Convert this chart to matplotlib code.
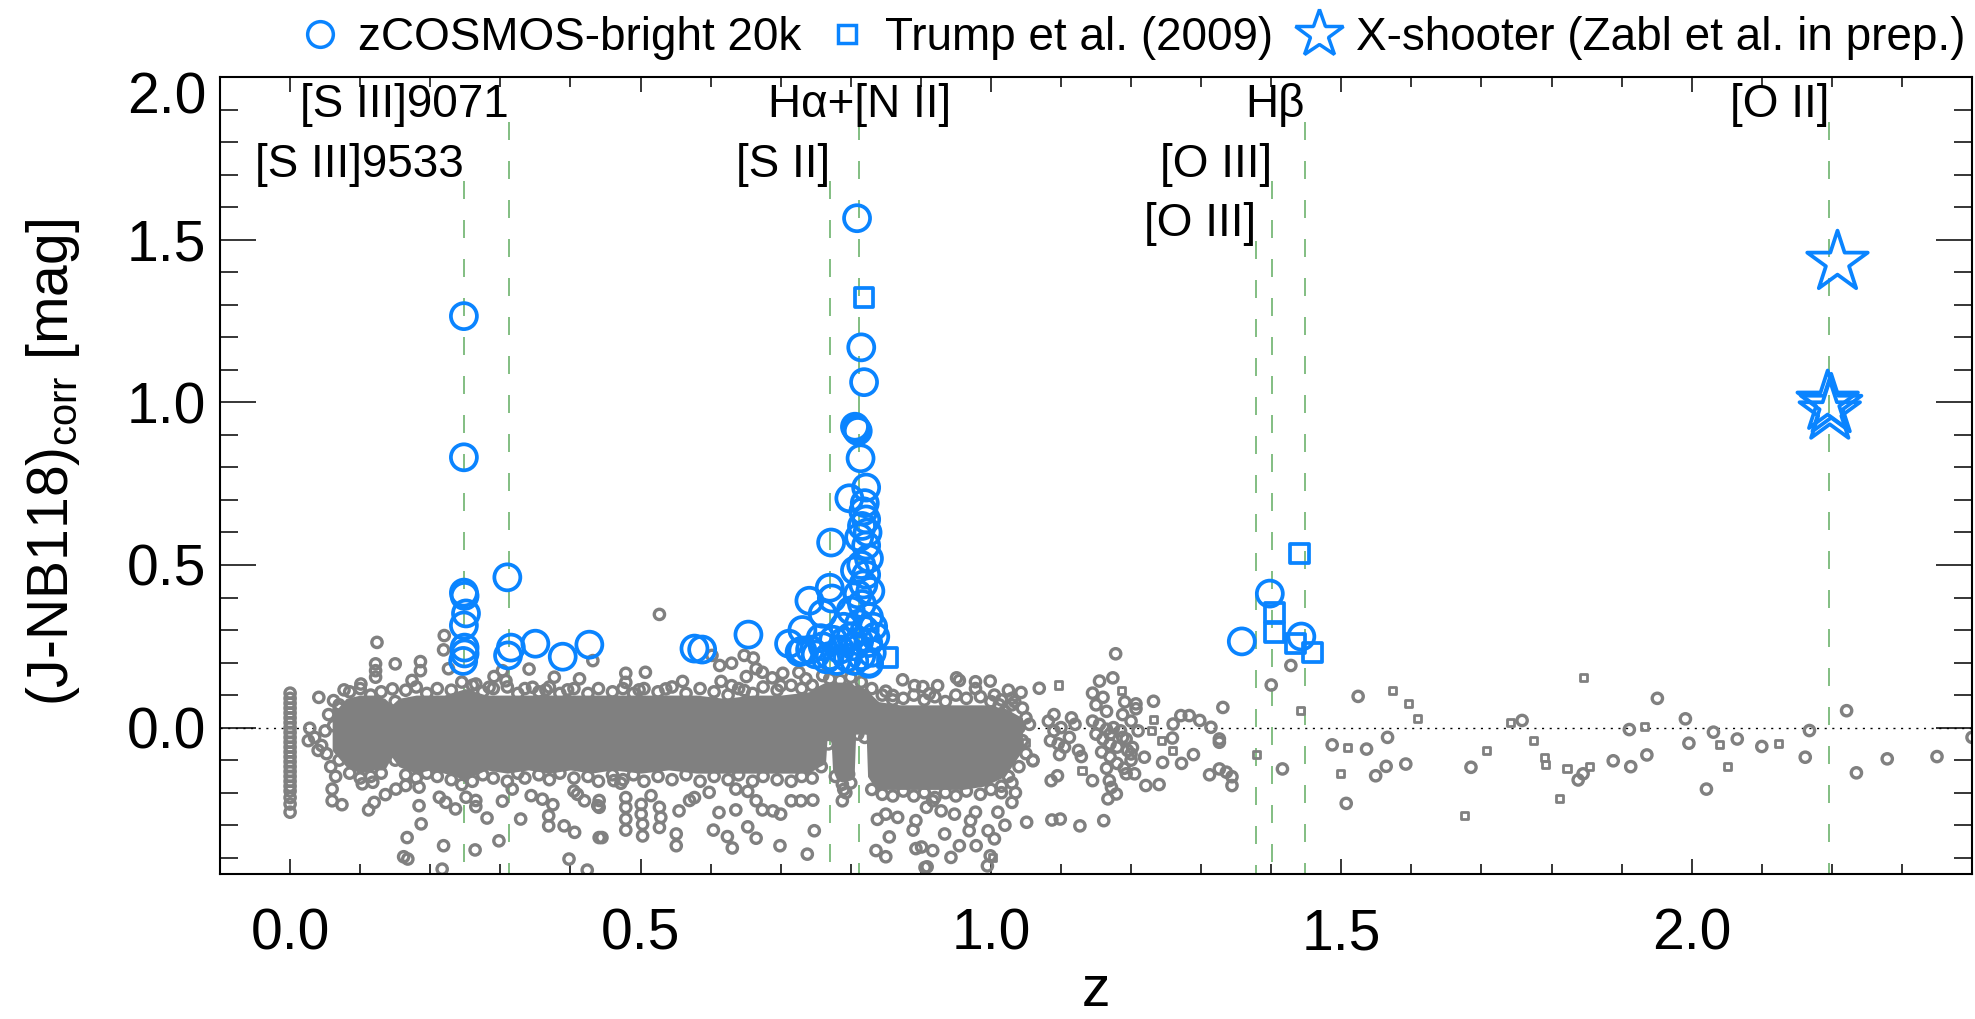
import matplotlib
matplotlib.use('Agg')
import matplotlib.pyplot as plt
from matplotlib.lines import Line2D
from matplotlib.ticker import MultipleLocator, FormatStrFormatter
from matplotlib.transforms import ScaledTranslation

plt.rcParams['font.family'] = ['Liberation Sans', 'DejaVu Sans']
plt.rcParams['mathtext.fontset'] = 'custom'
plt.rcParams['mathtext.rm'] = 'Liberation Sans'
plt.rcParams['mathtext.it'] = 'Liberation Sans'

# emission lines falling into NB118
line_z = [0.248, 0.312, 0.771, 0.812, 1.378, 1.401, 1.448, 2.196]
line_labels = ['[S III]9533', '[S III]9071', '[S II]', 'H\u03b1+[N II]',
               '[O III]', '[O III]', 'H\u03b2', '[O II]']
label_y = [1.694, 1.878, 1.694, 1.878, 1.511, 1.694, 1.878, 1.878]
label_ha = ['right', 'right', 'right', 'center', 'right', 'right', 'right', 'right']

# dense core of the full NB118 sample (envelope of the saturated cloud)
band_z = [0.06, 0.08, 0.10, 0.12, 0.135, 0.145, 0.155, 0.18, 0.20, 0.22, 0.25, 0.28,
          0.31, 0.34, 0.37, 0.40, 0.43, 0.46, 0.50, 0.54, 0.58, 0.62, 0.66, 0.70,
          0.74, 0.755, 0.764, 0.766, 0.772, 0.774, 0.78, 0.80, 0.805, 0.807, 0.822,
          0.824, 0.83, 0.84, 0.87, 0.90, 0.93, 0.96, 0.99, 1.02, 1.045]
band_hi = [0.04, 0.09, 0.10, 0.10, 0.09, 0.07, 0.09, 0.10, 0.10, 0.10, 0.12, 0.10,
           0.10, 0.10, 0.10, 0.10, 0.10, 0.10, 0.10, 0.10, 0.10, 0.09, 0.10, 0.10,
           0.11, 0.13, 0.14, 0.14, 0.14, 0.14, 0.14, 0.14, 0.13, 0.13, 0.12,
           0.12, 0.10, 0.08, 0.07, 0.07, 0.07, 0.07, 0.07, 0.06, 0.03]
band_lo = [-0.07, -0.12, -0.14, -0.13, -0.13, -0.09, -0.12, -0.14, -0.13, -0.14, -0.16, -0.13,
           -0.14, -0.13, -0.14, -0.13, -0.14, -0.13, -0.14, -0.13, -0.14, -0.14, -0.14, -0.14,
           -0.14, -0.12, -0.11, -0.04, -0.04, -0.13, -0.16, -0.15, -0.14, -0.02, -0.02,
           -0.15, -0.17, -0.19, -0.19, -0.19, -0.19, -0.19, -0.18, -0.15, -0.07]

# grey circles along the upper and lower rim of the dense cloud
rim_top_z = [0.07, 0.085, 0.10, 0.115, 0.13, 0.15, 0.165, 0.18, 0.195, 0.21, 0.23, 0.245, 0.26,
             0.275, 0.29, 0.31, 0.325, 0.335, 0.355, 0.37, 0.385, 0.405, 0.425, 0.44, 0.46, 0.475,
             0.49, 0.505, 0.525, 0.545, 0.565, 0.585, 0.605, 0.625, 0.64, 0.66, 0.675, 0.695,
             0.715, 0.73, 0.745, 0.76, 0.77, 0.785, 0.80, 0.815, 0.83, 0.845, 0.86, 0.875, 0.89,
             0.905, 0.92, 0.935, 0.95, 0.965, 0.985, 1.0, 1.015, 1.03]
rim_top_y = [0.07, 0.11, 0.12, 0.10, 0.11, 0.08, 0.115, 0.125, 0.105, 0.12, 0.115, 0.14, 0.13,
             0.11, 0.12, 0.125, 0.105, 0.12, 0.11, 0.125, 0.105, 0.12, 0.105, 0.12, 0.11, 0.12,
             0.105, 0.12, 0.11, 0.125, 0.105, 0.12, 0.11, 0.10, 0.12, 0.105, 0.125, 0.115,
             0.13, 0.12, 0.13, 0.16, 0.15, 0.145, 0.155, 0.14, 0.12, 0.10, 0.085, 0.09, 0.10,
             0.085, 0.095, 0.08, 0.10, 0.09, 0.095, 0.08, 0.085, 0.07]
rim_bot_z = [0.07, 0.085, 0.10, 0.115, 0.13, 0.15, 0.165, 0.18, 0.195, 0.21, 0.23, 0.245, 0.26,
             0.275, 0.29, 0.31, 0.325, 0.335, 0.355, 0.37, 0.385, 0.405, 0.425, 0.44, 0.46, 0.475,
             0.49, 0.505, 0.525, 0.545, 0.565, 0.585, 0.605, 0.625, 0.64, 0.66, 0.675, 0.695,
             0.715, 0.73, 0.745, 0.758, 0.768, 0.778, 0.79, 0.80, 0.81, 0.82, 0.83, 0.845, 0.86,
             0.875, 0.89, 0.905, 0.92, 0.935, 0.95, 0.965, 0.985, 1.0, 1.015, 1.03]
rim_bot_y = [-0.10, -0.14, -0.155, -0.15, -0.14, -0.10, -0.145, -0.155, -0.14, -0.15, -0.16, -0.175,
             -0.165, -0.145, -0.155, -0.165, -0.14, -0.155, -0.145, -0.16, -0.14, -0.155, -0.15,
             -0.165, -0.145, -0.16, -0.145, -0.165, -0.15, -0.16, -0.145, -0.165, -0.15, -0.16,
             -0.145, -0.165, -0.15, -0.16, -0.165, -0.15, -0.155, -0.12, -0.05, -0.15, -0.19,
             -0.17, -0.02, -0.03, -0.19, -0.205, -0.21, -0.195, -0.21, -0.20, -0.215, -0.20,
             -0.21, -0.195, -0.205, -0.19, -0.20, -0.17]

# individual grey circles (all NB118 objects with a redshift)
gray_z = [0.0] * 24 + [
    0.028, 0.041, 0.026, 0.040, 0.035, 0.045, 0.062, 0.062, 0.050, 0.055, 0.052, 0.058, 0.065, 0.070,
    0.124, 0.220, 0.219, 0.226, 0.150, 0.186, 0.186, 0.122, 0.122, 0.122, 0.174, 0.146, 0.101, 0.077,
    0.265, 0.291, 0.284, 0.303, 0.308, 0.341, 0.377, 0.413, 0.432, 0.396, 0.346, 0.365,
    0.060, 0.060, 0.074, 0.103, 0.118, 0.112, 0.120, 0.136, 0.151, 0.165, 0.184, 0.187, 0.167, 0.162,
    0.168, 0.219, 0.217, 0.213, 0.222, 0.236, 0.251, 0.265, 0.265, 0.264, 0.281, 0.303, 0.298, 0.329,
    0.344, 0.360, 0.369, 0.369, 0.375, 0.391, 0.406, 0.398, 0.424, 0.441, 0.439, 0.410, 0.420, 0.405,
    0.462, 0.317, 0.184,
    0.527, 0.479, 0.507, 0.479, 0.498, 0.536, 0.560, 0.602, 0.613, 0.630, 0.615, 0.630, 0.648, 0.661,
    0.651, 0.665, 0.674, 0.688, 0.703, 0.726, 0.700, 0.736, 0.648, 0.874, 0.891, 0.903, 0.924, 0.951,
    0.955, 0.978, 0.978, 0.999, 0.850, 0.860, 0.912,
    0.445, 0.441, 0.441, 0.472, 0.479, 0.479, 0.479, 0.479, 0.501, 0.501, 0.503, 0.503, 0.515, 0.527,
    0.529, 0.527, 0.551, 0.551, 0.555, 0.570, 0.577, 0.598, 0.604, 0.612, 0.624, 0.631, 0.636, 0.636,
    0.653, 0.653, 0.665, 0.665, 0.674, 0.689, 0.699, 0.700, 0.715, 0.729, 0.746, 0.738, 0.748, 0.788,
    0.790, 0.797, 0.788, 0.793, 0.836, 0.850, 0.855, 0.850, 0.838, 0.867, 0.889, 0.893, 0.893, 0.901,
    0.909, 0.917, 0.934, 0.943, 0.955, 0.969, 0.971, 0.978, 0.979, 0.995, 0.999, 0.996, 0.929, 0.948,
    0.908, 0.917, 0.906,
    1.005, 1.012, 1.020, 1.030, 1.034, 1.045, 1.050, 1.040, 1.030, 1.045, 1.055, 1.060, 1.040, 1.025,
    1.015, 1.035, 1.030, 1.010, 1.020, 1.005, 1.050, 1.025, 1.043, 1.069, 1.060, 1.098, 1.095, 1.086,
    1.129, 1.145, 1.169, 1.172, 1.167, 1.179, 1.193, 1.205, 1.191, 1.207, 1.207, 1.202, 1.200, 1.188,
    1.193, 1.178, 1.174, 1.155, 1.145, 1.160, 1.232, 1.331, 1.400, 1.428, 1.314, 1.298, 1.283, 1.271,
    1.260, 1.259, 1.326, 1.326, 1.289, 1.272, 1.245, 1.219, 1.312, 1.326, 1.336, 1.344, 1.344, 1.416,
    1.487, 1.536, 1.549, 1.507, 1.524, 1.564, 1.566, 1.221, 1.240, 1.161, 1.127, 1.099, 1.087, 1.051,
    1.082, 1.090, 1.100, 1.112, 1.105, 1.096, 1.085, 1.120, 1.115, 1.125, 1.090,
    1.145, 1.155, 1.165, 1.175, 1.185, 1.150, 1.160, 1.170, 1.180, 1.158, 1.170, 1.180, 1.165, 1.190,
    1.200, 1.195, 1.188, 1.165, 1.150, 1.200, 1.210, 1.170,
    1.592, 1.685, 1.758, 1.838, 1.845, 1.888, 1.913, 1.911, 1.936, 1.951, 1.991, 1.996, 2.021, 2.031,
    2.065, 2.100, 2.162, 2.168, 2.221, 2.235, 2.279, 2.350, 2.400]
gray_y = [0.106, 0.090, 0.075, 0.060, 0.045, 0.030, 0.015, 0.0, -0.015, -0.030, -0.045, -0.060,
          -0.075, -0.090, -0.105, -0.120, -0.135, -0.150, -0.165, -0.180, -0.195, -0.215, -0.235, -0.260] + [
    -0.002, 0.093, -0.040, -0.070, -0.030, -0.055, 0.006, 0.083, -0.010, 0.040, -0.080, -0.120, -0.150, 0.060,
    0.262, 0.283, 0.239, 0.181, 0.196, 0.203, 0.175, 0.196, 0.175, 0.155, 0.145, 0.119, 0.134, 0.116,
    0.134, 0.157, 0.124, 0.175, 0.144, 0.180, 0.155, 0.150, 0.206, 0.116, 0.124, 0.116,
    -0.189, -0.225, -0.237, -0.173, -0.168, -0.253, -0.230, -0.206, -0.189, -0.178, -0.183, -0.296, -0.338, -0.397,
    -0.404, -0.363, -0.435, -0.214, -0.230, -0.250, -0.214, -0.224, -0.243, -0.376, -0.278, -0.226, -0.348, -0.281,
    -0.209, -0.220, -0.271, -0.302, -0.237, -0.302, -0.322, -0.404, -0.438, -0.338, -0.240, -0.205, -0.225, -0.195,
    -0.163, -0.189, -0.240,
    0.348, 0.167, 0.170, 0.139, 0.116, 0.119, 0.142, 0.222, 0.191, 0.198, 0.142, 0.129, 0.222, 0.214,
    0.157, 0.181, 0.170, 0.153, 0.167, 0.170, 0.129, 0.150, 0.114, 0.147, 0.129, 0.126, 0.129, 0.153,
    0.145, 0.141, 0.120, 0.143, 0.112, 0.099, 0.104,
    -0.338, -0.224, -0.245, -0.171, -0.215, -0.245, -0.281, -0.315, -0.236, -0.266, -0.297, -0.333, -0.209, -0.245,
    -0.276, -0.307, -0.327, -0.363, -0.256, -0.224, -0.215, -0.199, -0.315, -0.261, -0.335, -0.370, -0.189, -0.253,
    -0.196, -0.305, -0.340, -0.225, -0.253, -0.256, -0.363, -0.266, -0.225, -0.225, -0.223, -0.389, -0.317, -0.225,
    -0.148, -0.143, -0.174, -0.200, -0.378, -0.397, -0.336, -0.266, -0.282, -0.276, -0.315, -0.286, -0.372, -0.367,
    -0.428, -0.378, -0.327, -0.399, -0.363, -0.317, -0.286, -0.260, -0.363, -0.425, -0.394, -0.317, -0.256, -0.266,
    -0.245, -0.225, -0.430,
    0.100, 0.070, 0.050, 0.090, 0.080, 0.060, 0.030, 0.000, -0.020, -0.040, 0.010, -0.100, -0.120, -0.150,
    -0.180, -0.200, -0.230, -0.260, -0.300, -0.342, -0.080, 0.115, 0.108, 0.121, -0.102, -0.083, -0.148, -0.163,
    -0.089, -0.163, -0.163, -0.184, -0.219, -0.204, -0.142, -0.142, 0.079, 0.073, 0.058, -0.061, -0.081, -0.030,
    -0.035, 0.227, 0.153, 0.143, 0.106, 0.093, 0.081, 0.062, 0.131, 0.191, 0.001, 0.022, 0.037, 0.037,
    0.011, -0.032, -0.035, -0.045, -0.083, -0.110, -0.107, -0.091, -0.145, -0.127, -0.137, -0.151, -0.178, -0.127,
    -0.053, -0.066, -0.148, -0.233, 0.096, -0.119, -0.030, -0.178, -0.175, -0.286, -0.302, -0.281, -0.284, -0.291,
    0.020, -0.010, 0.000, -0.030, -0.060, -0.050, -0.040, 0.010, 0.030, -0.070, 0.040,
    0.020, 0.010, -0.005, 0.000, -0.010, -0.020, -0.035, -0.050, -0.060, -0.075, -0.090, -0.110, -0.125, -0.125,
    -0.100, -0.070, 0.040, 0.050, 0.070, 0.020, -0.010, -0.020,
    -0.112, -0.122, 0.022, -0.161, -0.142, -0.102, -0.120, -0.006, -0.084, 0.090, 0.027, -0.048, -0.189, -0.014,
    -0.035, -0.058, -0.091, -0.009, 0.052, -0.139, -0.096, -0.089, -0.030]

# grey squares
gsq_z = [1.097, 1.187, 1.232, 1.130, 1.049, 1.244, 1.259, 1.229, 1.379, 1.442, 1.499, 1.509, 1.573,
         1.596, 1.609, 1.707, 1.676, 1.742, 1.774, 1.790, 1.792, 1.822, 1.854, 1.811, 1.845, 1.932,
         2.040, 2.051, 2.124, 1.002]
gsq_y = [0.131, 0.114, 0.025, -0.132, -0.047, -0.040, -0.070, -0.008, -0.083, 0.052, -0.141, -0.061, 0.114,
         0.073, 0.027, -0.069, -0.271, 0.016, -0.040, -0.093, -0.114, -0.127, -0.120, -0.219, 0.153, 0.003,
         -0.052, -0.119, -0.050, -0.399]

# zCOSMOS-bright 20k emitters
zc_z = [0.248, 0.248, 0.248, 0.249, 0.251, 0.248, 0.249, 0.249, 0.247,
        0.310, 0.315, 0.311, 0.350, 0.389, 0.427, 0.577, 0.588, 0.654, 0.712,
        0.809, 0.815, 0.819, 0.806, 0.808, 0.810, 0.814, 0.822, 0.798, 0.820, 0.818, 0.822, 0.816,
        0.824, 0.812, 0.772, 0.822, 0.826, 0.815, 0.806, 0.822, 0.770, 0.818, 0.828, 0.773, 0.810,
        0.816, 0.800, 0.760, 0.826, 0.812, 0.731, 0.790, 0.820, 0.800, 0.775, 0.731, 0.760, 0.785,
        0.805, 0.825, 0.770, 0.795, 0.815, 0.830, 0.780, 0.805, 0.826, 0.765, 0.750, 0.742, 0.757,
        0.835, 0.832, 0.790, 0.812, 0.727, 0.741, 0.826,
        1.358, 1.398, 1.443]
zc_y = [1.265, 0.831, 0.415, 0.405, 0.351, 0.314, 0.246, 0.228, 0.205,
        0.462, 0.246, 0.222, 0.258, 0.218, 0.255, 0.243, 0.240, 0.286, 0.258,
        1.566, 1.169, 1.062, 0.925, 0.918, 0.912, 0.828, 0.738, 0.705, 0.690, 0.665, 0.640, 0.620,
        0.600, 0.585, 0.569, 0.560, 0.520, 0.500, 0.483, 0.470, 0.430, 0.440, 0.420, 0.397, 0.410,
        0.380, 0.360, 0.350, 0.340, 0.320, 0.300, 0.310, 0.300, 0.280, 0.270, 0.237, 0.250, 0.240,
        0.250, 0.260, 0.220, 0.215, 0.220, 0.230, 0.205, 0.205, 0.200, 0.210, 0.225, 0.240, 0.275,
        0.280, 0.310, 0.265, 0.265, 0.232, 0.390, 0.196,
        0.265, 0.412, 0.280]

# Trump et al. (2009)
tr_z = [0.819, 0.852, 1.440, 1.405, 1.405, 1.435, 1.459]
tr_y = [1.323, 0.215, 0.535, 0.354, 0.292, 0.258, 0.231]

# X-shooter (Zabl et al. in prep.)
xs_z = [2.208, 2.194, 2.199, 2.197]
xs_y = [1.430, 1.000, 0.990, 0.970]

blue = '#0a84ff'
grey = '#808080'
green = '#6db36d'
ymin, ymax = -0.45, 2.0

fig = plt.figure(figsize=(19.75, 10.19), dpi=100)
ax = fig.add_axes([0.1114, 0.1423, 0.9985 - 0.1114, 0.9244 - 0.1423])

# emission line markers
for z, lab, ly, ha in zip(line_z, line_labels, label_y, label_ha):
    ax.plot([z, z], [ly - 0.015, ymin], color=green, lw=1.2,
            ls=(0, (10.8, 12.6)), zorder=1)
    ax.text(z, ly, lab, ha=ha, va='baseline', fontsize=33, zorder=5)

ax.axhline(0, color='black', lw=1.0, ls=(0, (1.5, 4)), zorder=0.5)

# grey background sample
ring = dict(s=55, facecolors='none', edgecolors=grey, linewidths=2.4, zorder=2)
ax.fill_between(band_z, band_lo, band_hi, color=grey, lw=0, zorder=2)
ax.scatter(rim_top_z, rim_top_y, **ring)
ax.scatter(rim_bot_z, rim_bot_y, **ring)
ax.scatter(gray_z, gray_y, **ring)
ax.scatter(gsq_z, gsq_y, s=26, marker='s', facecolors='none', edgecolors=grey, linewidths=2.0, zorder=2)

# spectroscopic emitters
ax.scatter(zc_z, zc_y, s=350, facecolors='none', edgecolors=blue, linewidths=2.7, zorder=3)
ax.scatter(tr_z, tr_y, s=180, marker='s', facecolors='none', edgecolors=blue, linewidths=2.7, zorder=3)
ax.scatter(xs_z, xs_y, s=2100, marker='*', facecolors='none', edgecolors=blue, linewidths=2.7, zorder=3)

ax.set_xlim(-0.1, 2.4)
ax.set_ylim(ymin, ymax)
ax.xaxis.set_major_locator(MultipleLocator(0.5))
ax.xaxis.set_minor_locator(MultipleLocator(0.1))
ax.yaxis.set_major_locator(MultipleLocator(0.5))
ax.yaxis.set_minor_locator(MultipleLocator(0.1))
ax.xaxis.set_major_formatter(FormatStrFormatter('%.1f'))
ax.yaxis.set_major_formatter(FormatStrFormatter('%.1f'))

ax.tick_params(which='both', direction='in', top=True, right=True, width=1.1, labelsize=41)
ax.tick_params(axis='y', which='major', length=26, pad=10)
ax.tick_params(axis='y', which='minor', length=13)
ax.tick_params(axis='x', which='major', length=11, pad=24)
ax.tick_params(axis='x', which='minor', length=7)
for sp in ax.spines.values():
    sp.set_linewidth(1.5)

# the top y label sits a little below its tick, as in the original
fig.canvas.draw()
for tick in ax.yaxis.get_major_ticks():
    if abs(tick.get_loc() - 2.0) < 1e-6:
        lab = tick.label1
        lab.set_transform(lab.get_transform() + ScaledTranslation(0, -0.15, fig.dpi_scale_trans))

fig.text(0.5549, 0.001, 'z', ha='center', va='bottom', fontsize=41)
fig.text(0.027, 1 - 463 / 1019, '(J-NB118)$_{\\mathrm{corr}}$ [mag]', rotation=90,
         ha='center', va='center', fontsize=41)

handles = [
    Line2D([], [], ls='none', marker='o', ms=18.5, mfc='none', mec=blue, mew=2.5),
    Line2D([], [], ls='none', marker='s', ms=13.2, mfc='none', mec=blue, mew=2.5),
    Line2D([], [], ls='none', marker='*', ms=36, mfc='none', mec=blue, mew=2.5),
]
fig.legend(handles, ['zCOSMOS-bright 20k', 'Trump et al. (2009)', 'X-shooter (Zabl et al. in prep.)'],
           loc='center right', bbox_to_anchor=(0.9954, 0.9627), bbox_transform=fig.transFigure,
           ncol=3, frameon=False, fontsize=33, handlelength=0.6, handletextpad=0.52,
           columnspacing=0.7, borderpad=0, borderaxespad=0)

fig.savefig('out.png', dpi=100)
